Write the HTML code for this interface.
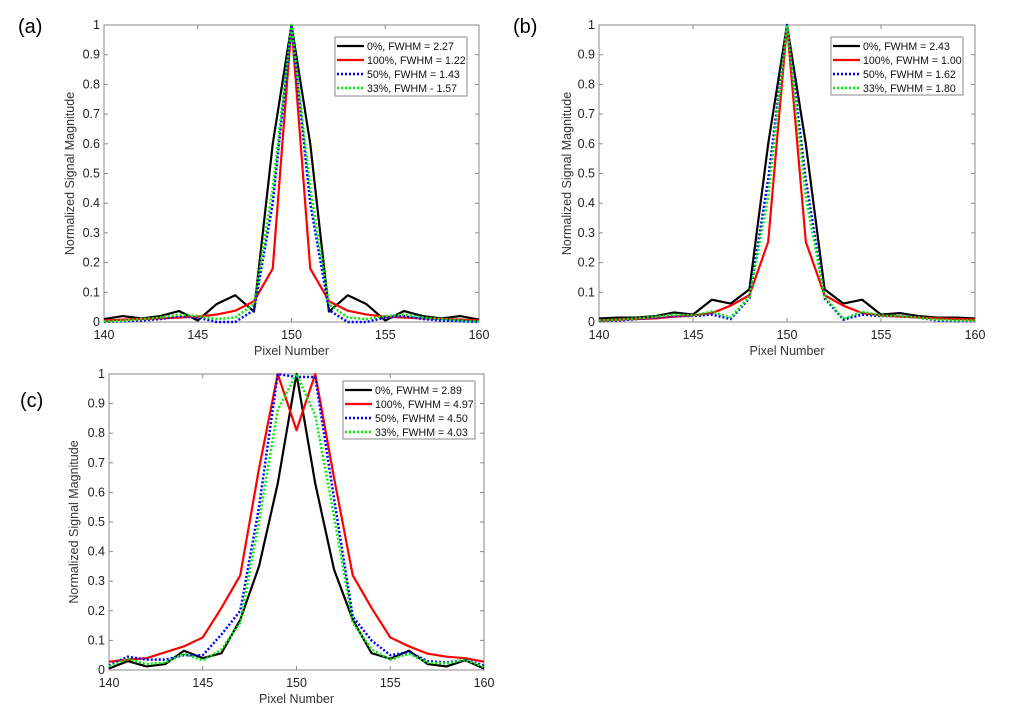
<!DOCTYPE html>
<html><head><meta charset="utf-8"><style>
body{margin:0;background:#fff;width:1016px;height:717px;overflow:hidden;font-family:"Liberation Sans",Arial,sans-serif}
svg{position:absolute;left:0;top:0}
text{font-family:"Liberation Sans",Arial,sans-serif}
</style></head><body>
<svg id="fig" width="1016" height="717"></svg>
<script>
const xs=[140,141,142,143,144,145,146,147,148,149,150,151,152,153,154,155,156,157,158,159,160];
const xTicks=[140,145,150,155,160];
const yTicks=[0,0.1,0.2,0.3,0.4,0.5,0.6,0.7,0.8,0.9,1];
const yTickLabels=["0","0.1","0.2","0.3","0.4","0.5","0.6","0.7","0.8","0.9","1"];
const aBlack=[.01,.02,.012,.02,.037,.005,.06,.09,.035,.6,1,.6,.035,.09,.06,.005,.037,.02,.012,.02,.008];
const aRed=[.005,.008,.01,.012,.015,.018,.025,.038,.07,.18,1,.18,.07,.038,.025,.018,.015,.012,.01,.008,.005];
const aBlue=[0,.003,.005,.01,.02,.015,0,0,.04,.4,1,.4,.04,0,0,.015,.02,.01,.005,.003,0];
const aGreen=[.002,.005,.01,.015,.025,.02,.01,.015,.06,.45,1,.45,.06,.015,.01,.02,.025,.015,.01,.005,.002];
const aLegend=["0%, FWHM = 2.27","100%, FWHM = 1.22","50%, FWHM = 1.43","33%, FWHM - 1.57"];
const bBlack=[.012,.015,.015,.02,.032,.025,.075,.062,.11,.6,1,.6,.11,.062,.075,.025,.03,.02,.015,.015,.012];
const bRed=[.005,.008,.01,.012,.018,.022,.03,.055,.09,.27,1,.27,.09,.055,.03,.022,.018,.015,.012,.01,.008];
const bBlue=[.003,.005,.01,.015,.02,.02,.025,.01,.08,.48,1,.48,.08,.008,.025,.02,.02,.015,.005,.003,.003];
const bGreen=[.005,.008,.012,.018,.025,.022,.035,.015,.085,.42,1,.42,.085,.01,.035,.022,.02,.015,.008,.005,.005];
const bLegend=["0%, FWHM = 2.43","100%, FWHM = 1.00","50%, FWHM = 1.62","33%, FWHM = 1.80"];
const cBlack=[.005,.03,.012,.02,.065,.04,.057,.17,.35,.63,1,.63,.34,.17,.057,.038,.065,.02,.012,.033,.005];
const cRed=[.028,.035,.04,.06,.08,.11,.21,.32,.68,1,.81,1,.65,.32,.21,.11,.08,.055,.045,.04,.028];
const cBlue=[.015,.045,.035,.035,.05,.05,.12,.2,.55,1,.99,.99,.58,.18,.1,.05,.06,.03,.025,.035,.015];
const cGreen=[.012,.038,.02,.025,.055,.032,.07,.16,.5,.88,1,.86,.52,.16,.07,.035,.055,.025,.022,.035,.01];
const cLegend=["0%, FWHM = 2.89","100%, FWHM = 4.97","50%, FWHM = 4.50","33%, FWHM = 4.03"];

const NS="http://www.w3.org/2000/svg";
const svg=document.getElementById('fig');
function mk(tag,attrs,parent,txt){const e=document.createElementNS(NS,tag);for(const k in attrs)e.setAttribute(k,attrs[k]);if(txt!==undefined)e.textContent=txt;(parent||svg).appendChild(e);return e;}
const styles=[{c:"#000",d:null},{c:"#ff0000",d:null},{c:"#0000ff",d:"2 2"},{c:"#00ee00",d:"2 2"}];
function panel(id,label,lx,ly,L,R,T,B,ylx,series,legend,leg){
  const g=mk('g',{});
  
  
  const sx=v=>L+(v-140)/20*(R-L), sy=v=>B-v*(B-T);
  const pl=mk('text',{x:lx,y:ly,'font-size':20,fill:'#000'},g,label);
  
  
  const fr=mk('rect',{x:L,y:T,width:R-L,height:B-T,fill:'none',stroke:'#8a8a8a','stroke-width':1},g);
  
  
  xTicks.forEach(t=>{const x=sx(t);
    mk('line',{x1:x,y1:B,x2:x,y2:B-4,stroke:'#8a8a8a'},g);mk('line',{x1:x,y1:T,x2:x,y2:T+4,stroke:'#8a8a8a'},g);
    const tl=mk('text',{x:x,y:B+17,'font-size':12.5,'text-anchor':'middle',fill:'#222'},g,String(t));
    
    });
  yTicks.forEach((t,i)=>{const y=sy(t);
    mk('line',{x1:L,y1:y,x2:L+4,y2:y,stroke:'#8a8a8a'},g);mk('line',{x1:R,y1:y,x2:R-4,y2:y,stroke:'#8a8a8a'},g);
    const tl=mk('text',{x:L-4,y:y+4,'font-size':12.5,'text-anchor':'end',fill:'#222'},g,yTickLabels[i]);
    
    });
  const xt=mk('text',{x:(L+R)/2,y:B+33,'font-size':12.5,'text-anchor':'middle',fill:'#333'},g,'Pixel Number');
  
  
  const yt=mk('text',{x:0,y:0,'font-size':12.5,'text-anchor':'middle',fill:'#333',transform:`translate(${ylx},${(T+B)/2}) rotate(-90)`},g,'Normalized Signal Magnitude');
  
  
  series.forEach((s,k)=>{const st=styles[k];
    const p=mk('polyline',{points:xs.map((x,i)=>sx(x)+','+sy(s[i])).join(' '),fill:'none',stroke:st.c,'stroke-width':k<2?2.2:2.5,'stroke-linejoin':'round'},g);
    if(st.d)p.setAttribute('stroke-dasharray',st.d);
    
    });
  const lg=mk('g',{},g);
  
  
  mk('rect',{x:leg.x,y:leg.y,width:leg.w,height:leg.h,fill:'#fff',stroke:'#8a8a8a'},lg);
  legend.forEach((t,k)=>{const y=leg.y+9+k*14,st=styles[k];
    const ln=mk('line',{x1:leg.x+2,y1:y,x2:leg.x+29,y2:y,stroke:st.c,'stroke-width':k<2?2.2:2.5},lg);
    if(st.d)ln.setAttribute('stroke-dasharray',st.d);
    const tx=mk('text',{x:leg.x+32,y:y+4,'font-size':10.6,fill:'#111'},lg,t);
    
    });
}
panel('a','(a)',18,33,104,479,25,322,74,[aBlack,aRed,aBlue,aGreen],aLegend,{x:335,y:37,w:132,h:59});
panel('b','(b)',513,33,599,975,25,322,571,[bBlack,bRed,bBlue,bGreen],bLegend,{x:831,y:37,w:132,h:58});
panel('c','(c)',20,407,109,484,374,670,78,[cBlack,cRed,cBlue,cGreen],cLegend,{x:343,y:381,w:132,h:58});
</script>
</body></html>
